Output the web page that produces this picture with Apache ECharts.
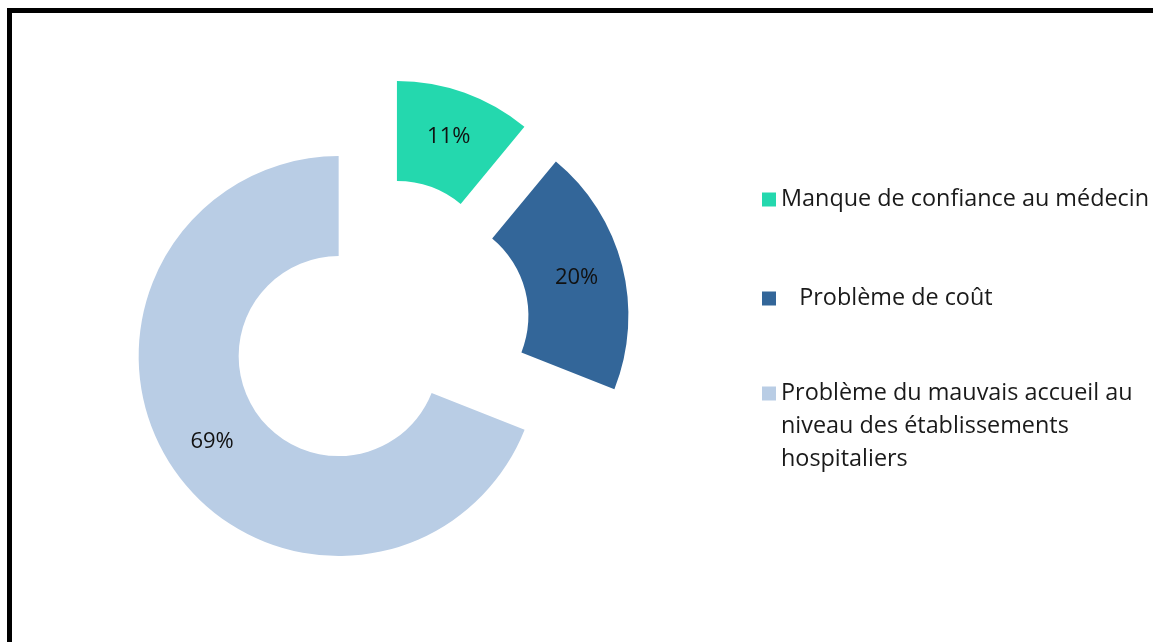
<!DOCTYPE html>
<html>
<head>
<meta charset="utf-8">
<script src="https://cdn.jsdelivr.net/npm/echarts@6/dist/echarts.min.js"></script>
<style>
  html, body { margin: 0; padding: 0; background: #fff; }
  #chart { width: 1153px; height: 642px; }
</style>
</head>
<body>
<div id="chart"></div>
<script>
// Raisons du non-recours : catégories, parts (%) et couleurs
const categories = [
  'Manque de confiance au médecin',
  'Problème de coût',
  'Problème du mauvais accueil au niveau des établissements hospitaliers'
];
const shares = [11, 20, 69];
const colors = ['#24D8AE', '#336699', '#B9CDE5'];

// Libellés de légende tels qu'affichés (retours à la ligne compris).
// Les deux lignes vides en tête gardent le carré face à la première ligne.
const legendLabels = [
  'Manque de confiance au médecin',
  '   Problème de coût',
  '\n\nProblème du mauvais accueil au\nniveau des établissements\nhospitaliers'
];

const FONT = '"Open Sans", "Liberation Sans", sans-serif';
const LH = 33;

const chart = echarts.init(document.getElementById('chart'), null, { renderer: 'canvas' });

// une légende par entrée pour placer chaque bloc à sa hauteur
const legendTops = [183, 282, 311];
const legends = categories.map((name, i) => ({
  show: true,
  orient: 'vertical',
  left: 762,
  top: legendTops[i],
  padding: 0,
  itemWidth: 14,
  itemHeight: 14,
  icon: 'rect',
  selectedMode: false,
  data: [name],
  formatter: () => legendLabels[i],
  textStyle: {
    fontFamily: FONT,
    fontSize: 23.4,
    color: '#1a1a1a',
    lineHeight: LH
  }
}));

chart.setOption({
  animation: false,
  backgroundColor: '#ffffff',
  color: colors,
  legend: legends,
  graphic: [{
    type: 'rect',
    silent: true,
    shape: { x: 9.5, y: 10.5, width: 1300, height: 800 },
    style: { fill: 'none', stroke: '#000', lineWidth: 5 }
  }],
  series: [{
    type: 'pie',
    center: [380, 328],
    radius: [100, 200],
    startAngle: 90,
    clockwise: true,
    selectedMode: 'multiple',
    selectedOffset: 50,
    avoidLabelOverlap: false,
    emphasis: { disabled: true },
    label: {
      show: true,
      position: 'inside',
      formatter: '{c}%',
      fontFamily: FONT,
      fontSize: 22,
      color: '#111'
    },
    labelLine: { show: false },
    data: categories.map((name, i) => ({
      name: name,
      value: shares[i],
      selected: true
    }))
  }]
});
</script>
</body>
</html>
